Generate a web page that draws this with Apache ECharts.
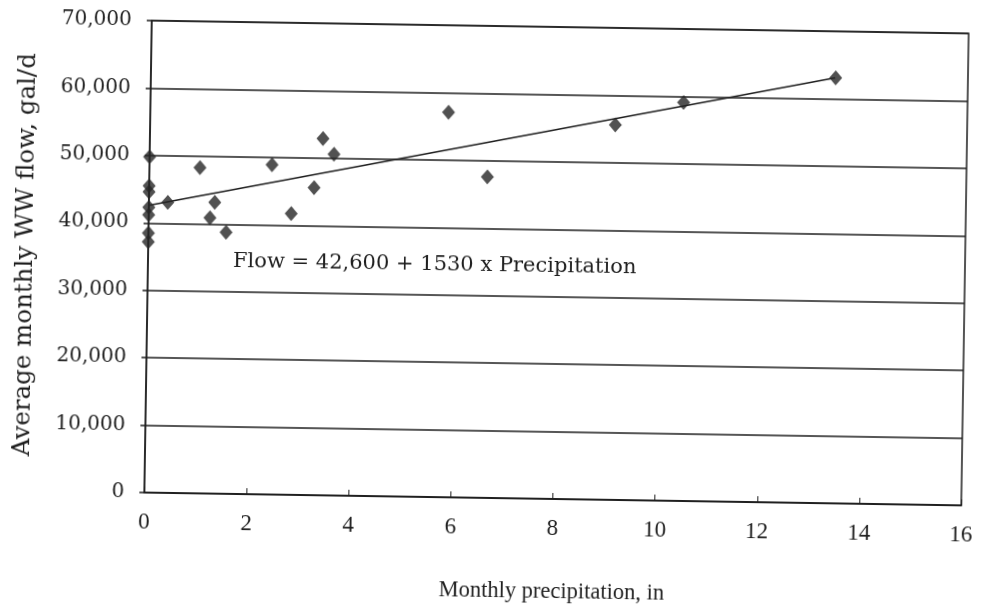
<!DOCTYPE html>
<html>
<head>
<meta charset="utf-8">
<script src="https://cdn.jsdelivr.net/npm/echarts@6/dist/echarts.min.js"></script>
<style>
html,body{margin:0;padding:0;background:#fff;overflow:hidden;}
#chart{width:982px;height:614px;transform:rotate(0.9deg);transform-origin:557px 263px;}
</style>
</head>
<body>
<div id="chart"></div>
<script>
// Monthly precipitation (in) and average monthly WW flow (gal/d)
const precipitation = [0, 0, 0, 0, 0, 0, 0, 0.37, 0.99, 1.29, 1.20, 1.52, 2.40, 2.79, 3.23, 3.39, 3.61, 5.84, 6.62, 9.11, 10.44, 13.41];
const flow = [49800, 45500, 44600, 42300, 41200, 38500, 37200, 43100, 48300, 43200, 40900, 38800, 48900, 41700, 45600, 52900, 50600, 57100, 47600, 55600, 59100, 63100];
// Trend line end points
const trendX = [0, 13.4];
const trendY = [42600, 63100];
const equationText = 'Flow = 42,600 + 1530 x Precipitation';
const xAxisTitle = 'Monthly precipitation, in';
const yAxisTitle = 'Average monthly WW flow, gal/d';

const ink = '#1e1e1e';
const serifN = '"Liberation Serif", serif';
const serifW = '"DejaVu Serif", serif';

const chart = echarts.init(document.getElementById('chart'), null, {renderer: 'canvas'});
chart.setOption({
  backgroundColor: 'transparent',
  animation: false,
  grid: {left: 148, right: 17, top: 27, bottom: 115, show: true, borderColor: ink, borderWidth: 1.5, containLabel: false},
  xAxis: {
    type: 'value', min: 0, max: 16, interval: 2,
    name: xAxisTitle, nameLocation: 'middle', nameGap: 82,
    nameTextStyle: {fontFamily: serifN, fontSize: 22.5, color: ink},
    axisLine: {show: true, lineStyle: {color: ink, width: 1.5}},
    axisTick: {show: true, inside: true, length: 6, lineStyle: {color: ink, width: 1}},
    axisLabel: {fontFamily: serifN, fontSize: 23, color: ink, margin: 18},
    splitLine: {show: false}
  },
  yAxis: {
    type: 'value', min: 0, max: 70000, interval: 10000,
    name: yAxisTitle, nameLocation: 'middle', nameGap: 110, nameRotate: 90,
    nameTextStyle: {fontFamily: serifW, fontSize: 24.5, color: ink},
    axisLine: {show: true, lineStyle: {color: ink, width: 1.5}},
    axisTick: {show: true, inside: false, length: 5, lineStyle: {color: ink, width: 1.5}},
    axisLabel: {fontFamily: serifW, fontSize: 20, color: ink, margin: 20,
      formatter: v => v.toLocaleString('en-US')},
    splitLine: {show: true, lineStyle: {color: ink, width: 1.5}}
  },
  series: [
    {
      type: 'line',
      data: trendX.map((x, i) => [x, trendY[i]]),
      showSymbol: false, symbol: 'none',
      lineStyle: {color: ink, width: 1.5},
      z: 2
    },
    {
      type: 'scatter',
      data: precipitation.map((x, i) => [x, flow[i]]),
      symbol: 'diamond', symbolSize: [13, 15],
      itemStyle: {color: '#262626'},
      z: 3
    }
  ],
  graphic: [
    {type: 'text', left: 233, top: 256,
     style: {text: equationText, fontFamily: serifW, fontSize: 21, fill: ink}}
  ]
});
</script>
</body>
</html>
